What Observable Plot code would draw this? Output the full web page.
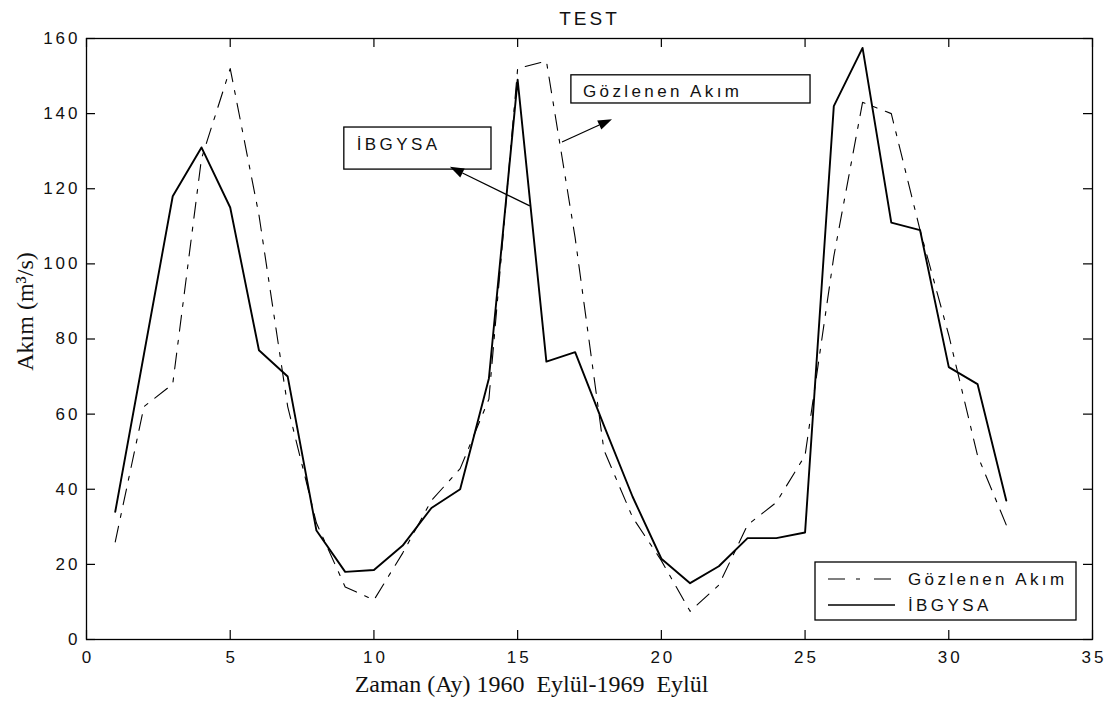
<!DOCTYPE html>
<html>
<head>
<meta charset="utf-8">
<script src="https://cdn.jsdelivr.net/npm/d3@7"></script>
<script src="https://cdn.jsdelivr.net/npm/@observablehq/plot@0.6"></script>
<style>
  html, body { margin: 0; padding: 0; background: #fff; }
  #chart svg { display: block; }
  #chart svg text { letter-spacing: 3px; }
  #chart svg g[font-family="Liberation Serif"] text { letter-spacing: 0; }
</style>
</head>
<body>
<div id="chart"></div>
<script>
// ---- data ----
const months = [1, 2, 3, 4, 5, 6, 7, 8, 9, 10, 11, 12, 13, 14, 15, 16,
                17, 18, 19, 20, 21, 22, 23, 24, 25, 26, 27, 28, 29, 30, 31, 32];
const observed = [26, 62, 68, 128, 152, 113, 62, 31, 14, 10.5, 23, 37, 45.5, 64, 152, 154,
                  107, 50.5, 32.5, 21, 7.5, 14.5, 30.5, 36.5, 49, 102, 143, 140, 109, 81, 49, 30.5];
const ibgysa = [34, 76, 118, 131, 115, 77, 70, 29, 18, 18.5, 25, 35, 40, 69.5, 149, 74,
                76.5, 57, 38, 21.5, 15, 19.5, 27, 27, 28.5, 142, 157.5, 111, 109, 72.5, 68, 37];
const seriesNames = ["Gözlenen Akım", "İBGYSA"];
const xTicks = [0, 5, 10, 15, 20, 25, 30, 35];
const yTicks = [0, 20, 40, 60, 80, 100, 120, 140, 160];
const titleText = "TEST";
const xLabelText = "Zaman (Ay) 1960  Eylül-1969  Eylül";
const yLabelText = "Akım (m³/s)";

// ---- annotation placement (data units) ----
const annotations = [
  {label: seriesNames[1], box: [8.97, 125.1, 14.09, 136.3], text: [9.42, 131.8], arrow: [15.44, 115.3, 12.66, 125.7]},
  {label: seriesNames[0], box: [16.87, 142.7, 25.19, 150.2], text: [17.29, 145.9], arrow: [16.56, 132.3, 18.3, 138.4]}
];

const rows = months.map((m, i) => ({month: m, observed: observed[i], ibgysa: ibgysa[i]}));

const W = 1112, H = 709, ML = 86, MR = 20, MT = 38, MB = 70;
const tickPx = 9;
const tY = tickPx * 160 / (H - MT - MB);
const tX = tickPx * 35 / (W - ML - MR);

const dashPattern = "16,9,4,9";
const textStyle = "font-family: 'Liberation Sans', Arial, sans-serif; font-size: 17px; letter-spacing: 3.4px;";

function annotate(index, scales) {
  const x = scales.x, y = scales.y;
  const g = d3.create("svg:g");
  for (const a of annotations) {
    const [bx1, by1, bx2, by2] = a.box;
    g.append("rect")
      .attr("x", x(bx1)).attr("y", y(by2))
      .attr("width", x(bx2) - x(bx1)).attr("height", y(by1) - y(by2))
      .attr("fill", "white").attr("stroke", "black").attr("stroke-width", 1.3);
    g.append("text")
      .attr("x", x(a.text[0])).attr("y", y(a.text[1])).attr("dy", "0.35em")
      .attr("text-anchor", "start")
      .attr("style", textStyle).attr("fill", "#111")
      .text(a.label);
    const x1 = x(a.arrow[0]), y1 = y(a.arrow[1]), x2 = x(a.arrow[2]), y2 = y(a.arrow[3]);
    const dx = x2 - x1, dy = y2 - y1, len = Math.hypot(dx, dy);
    const ux = dx / len, uy = dy / len;
    const hl = 14, hw = 5;
    const bx = x2 - ux * hl, by = y2 - uy * hl;
    g.append("line").attr("x1", x1).attr("y1", y1).attr("x2", bx).attr("y2", by)
      .attr("stroke", "black").attr("stroke-width", 1.2);
    g.append("path")
      .attr("d", `M${x2},${y2}L${bx - uy * hw},${by + ux * hw}L${bx + uy * hw},${by - ux * hw}Z`)
      .attr("fill", "black");
  }
  return g.node();
}

function legend(index, scales, values, dims) {
  const right = dims.width - dims.marginRight - 16;
  const bottom = dims.height - dims.marginBottom - 19;
  const bw = 261, bh = 58;
  const left = right - bw, top = bottom - bh;
  const g = d3.create("svg:g");
  g.append("rect").attr("x", left).attr("y", top).attr("width", bw).attr("height", bh)
    .attr("fill", "white").attr("stroke", "black").attr("stroke-width", 1.3);
  const entries = [
    {name: seriesNames[0], dash: "17,11,4,14", w: 1.2},
    {name: seriesNames[1], dash: null, w: 1.4}
  ];
  entries.forEach((e, i) => {
    const yy = top + 17 + i * 26;
    const ln = g.append("line").attr("x1", left + 13).attr("x2", left + 80)
      .attr("y1", yy).attr("y2", yy).attr("stroke", "black").attr("stroke-width", e.w);
    if (e.dash) ln.attr("stroke-dasharray", e.dash);
    g.append("text").attr("x", left + 93).attr("y", yy).attr("dy", "0.35em")
      .attr("text-anchor", "start")
      .attr("style", textStyle).attr("fill", "#111").text(e.name);
  });
  return g.node();
}

const chart = Plot.plot({
  width: W, height: H,
  marginLeft: ML, marginRight: MR, marginTop: MT, marginBottom: MB,
  x: {domain: [0, 35]},
  y: {domain: [0, 160]},
  style: {fontFamily: "'Liberation Sans', Arial, sans-serif", fontSize: "17px", background: "white", color: "#111"},
  marks: [
    Plot.ruleX(xTicks, {x: d => d, y1: 0, y2: tY, stroke: "black", strokeWidth: 1.2}),
    Plot.ruleX(xTicks, {x: d => d, y1: 160 - tY, y2: 160, stroke: "black", strokeWidth: 1.2}),
    Plot.ruleY(yTicks, {y: d => d, x1: 0, x2: tX, stroke: "black", strokeWidth: 1.2}),
    Plot.ruleY(yTicks, {y: d => d, x1: 35 - tX, x2: 35, stroke: "black", strokeWidth: 1.2}),
    Plot.axisX({ticks: xTicks, tickSize: 0, tickPadding: 11, label: null, fontSize: 17, dx: 1.5}),
    Plot.axisY({ticks: yTicks, tickSize: 0, tickPadding: 6, label: null, fontSize: 17}),
    Plot.line(rows, {x: "month", y: "observed", stroke: "black", strokeWidth: 1.1, strokeDasharray: dashPattern}),
    Plot.line(rows, {x: "month", y: "ibgysa", stroke: "black", strokeWidth: 1.9}),
    Plot.frame({stroke: "black", strokeWidth: 1.3}),
    annotate,
    legend,
    Plot.text([titleText], {frameAnchor: "top", dy: -14, lineAnchor: "bottom", fontSize: 19, dx: 0}),
    Plot.text([xLabelText], {frameAnchor: "bottom", textAnchor: "middle", dx: -58, dy: 52.5, lineAnchor: "bottom", fontSize: 24, fontFamily: "Liberation Serif"}),
    Plot.text([yLabelText], {frameAnchor: "left", textAnchor: "middle", rotate: -90, dx: -54, dy: -27.5, lineAnchor: "bottom", fontSize: 24, fontFamily: "Liberation Serif"})
  ]
});
document.getElementById("chart").appendChild(chart);
</script>
</body>
</html>
